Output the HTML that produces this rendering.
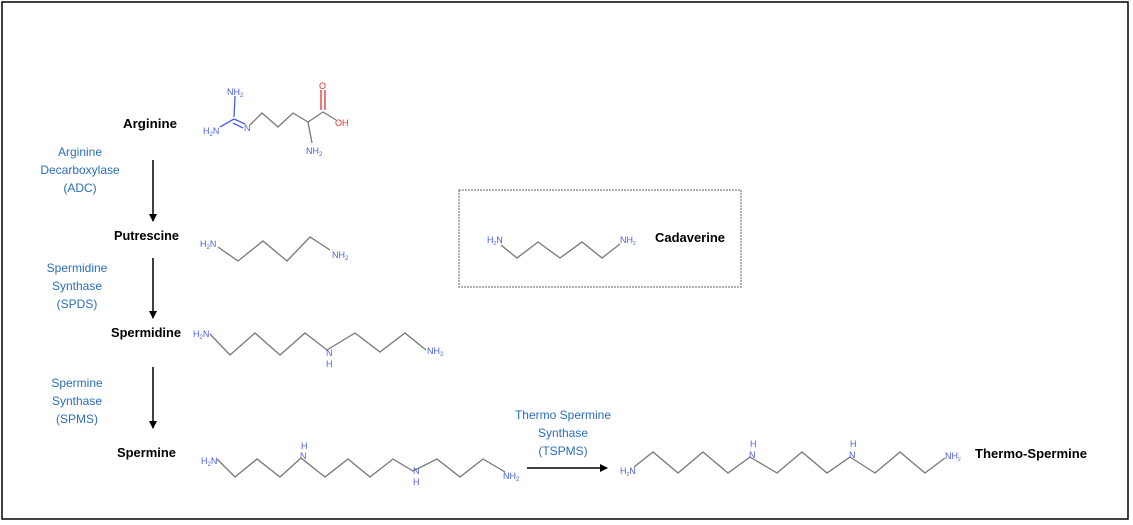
<!DOCTYPE html>
<html><head><style>
body{margin:0;width:1133px;height:525px;background:#fff;overflow:hidden}
svg{display:block}
.b{font-family:"Liberation Sans",sans-serif;font-weight:bold;font-size:13px;fill:#000}
.e{font-family:"Liberation Sans",sans-serif;font-size:12px;fill:#2a6ebb;text-anchor:middle}
.c{fill:none;stroke:#777;stroke-width:1.3}
.a{font-family:"Liberation Sans",sans-serif;font-size:9px;fill:#4a5ee8}
.r{font-family:"Liberation Sans",sans-serif;font-size:9px;fill:#e83030}
</style></head><body>
<svg width="1133" height="525" viewBox="0 0 1133 525">
<defs><marker id="m" markerWidth="8" markerHeight="8" refX="7" refY="4" orient="auto" markerUnits="userSpaceOnUse"><path d="M0,0 L8,4 L0,8z" fill="#000"/></marker></defs>
<rect x="2" y="2" width="1126" height="517" fill="none" stroke="#000" stroke-width="1.5"/>
<rect x="459" y="190" width="282" height="97" fill="none" stroke="#666" stroke-width="1" stroke-dasharray="2,1"/>

<text class="b" x="123" y="128" textLength="54" lengthAdjust="spacingAndGlyphs">Arginine</text>
<text class="b" x="114" y="240" textLength="65" lengthAdjust="spacingAndGlyphs">Putrescine</text>
<text class="b" x="111" y="337" textLength="70" lengthAdjust="spacingAndGlyphs">Spermidine</text>
<text class="b" x="117" y="457" textLength="59" lengthAdjust="spacingAndGlyphs">Spermine</text>
<text class="b" x="975" y="458" textLength="112" lengthAdjust="spacingAndGlyphs">Thermo-Spermine</text>
<text class="b" x="655" y="242" textLength="70" lengthAdjust="spacingAndGlyphs">Cadaverine</text>

<text class="e" x="80" y="156">Arginine</text><text class="e" x="80" y="174">Decarboxylase</text><text class="e" x="80" y="192">(ADC)</text>
<text class="e" x="77" y="272">Spermidine</text><text class="e" x="77" y="290">Synthase</text><text class="e" x="77" y="308">(SPDS)</text>
<text class="e" x="77" y="387">Spermine</text><text class="e" x="77" y="405">Synthase</text><text class="e" x="77" y="423">(SPMS)</text>
<text class="e" x="563" y="419">Thermo Spermine</text><text class="e" x="563" y="437">Synthase</text><text class="e" x="563" y="455">(TSPMS)</text>

<g stroke="#000" stroke-width="1.5" marker-end="url(#m)">
<line x1="153" y1="160" x2="153" y2="221"/>
<line x1="153" y1="258" x2="153" y2="318"/>
<line x1="153" y1="367" x2="153" y2="428"/>
<line x1="527" y1="468" x2="607" y2="468"/>
</g>

<!-- Arginine -->
<polyline class="c" points="250,125 262,113 278,127 293,113 308,122 323,112 336,120"/>
<line class="c" x1="308" y1="122" x2="312" y2="143"/>
<line class="c" x1="321" y1="110" x2="321" y2="90" style="stroke:#e83030"/><line class="c" x1="325" y1="110" x2="325" y2="90" style="stroke:#e83030"/>
<line class="c" x1="235" y1="96" x2="234" y2="117" style="stroke:#4a5ee8"/>
<line class="c" x1="220" y1="127" x2="234" y2="119" style="stroke:#4a5ee8"/>
<line class="c" x1="234" y1="119" x2="245" y2="124" style="stroke:#4a5ee8"/>
<line class="c" x1="233" y1="123" x2="243" y2="128" style="stroke:#4a5ee8"/>
<text class="a" x="227" y="95">NH<tspan font-size="6" dy="2">2</tspan></text>
<text class="a" x="203" y="134">H<tspan font-size="6" dy="2">2</tspan><tspan dy="-2">N</tspan></text>
<text class="a" x="244" y="131">N</text>
<text class="r" x="319" y="89">O</text>
<text class="r" x="335" y="126">OH</text>
<text class="a" x="306" y="154">NH<tspan font-size="6" dy="2">2</tspan></text>

<!-- Putrescine -->
<text class="a" x="200" y="247">H<tspan font-size="6" dy="2">2</tspan><tspan dy="-2">N</tspan></text>
<polyline class="c" points="218,247 238,261 263,241 287,261 310,237 330,250"/>
<text class="a" x="332" y="258">NH<tspan font-size="6" dy="2">2</tspan></text>

<!-- Spermidine -->
<text class="a" x="193" y="337">H<tspan font-size="6" dy="2">2</tspan><tspan dy="-2">N</tspan></text>
<polyline class="c" points="210,334 230,355 255,333 280,355 305,333 327,350 355,333 380,352 405,333 426,350"/>
<text class="a" x="326" y="356">N</text><text class="a" x="326" y="367">H</text>
<text class="a" x="427" y="354">NH<tspan font-size="6" dy="2">2</tspan></text>

<!-- Spermine -->
<text class="a" x="201" y="464">H<tspan font-size="6" dy="2">2</tspan><tspan dy="-2">N</tspan></text>
<polyline class="c" points="217,459 235,477 257,459 280,477 301,458 325,477 348,459 370,477 393,459 413,471 437,459 460,477 483,459 505,472"/>
<text class="a" x="301" y="449">H</text><text class="a" x="300" y="459">N</text>
<text class="a" x="413" y="474">N</text><text class="a" x="413" y="485">H</text>
<text class="a" x="503" y="479">NH<tspan font-size="6" dy="2">2</tspan></text>

<!-- Thermo-spermine -->
<text class="a" x="620" y="474" font-size="7">H<tspan font-size="5" dy="2">2</tspan><tspan dy="-2">N</tspan></text>
<polyline class="c" points="634,467 653,452 678,473 703,452 728,473 750,457 777,473 802,452 827,473 850,457 875,473 900,452 925,473 945,458"/>
<text class="a" x="749" y="458" font-size="7">N</text><text class="a" x="750" y="447" font-size="7">H</text>
<text class="a" x="849" y="458" font-size="7">N</text><text class="a" x="850" y="447" font-size="7">H</text>
<text class="a" x="945" y="459" font-size="7">NH<tspan font-size="5" dy="2">2</tspan></text>

<!-- Cadaverine -->
<text class="a" x="487" y="243" font-size="7">H<tspan font-size="5" dy="2">2</tspan><tspan dy="-2">N</tspan></text>
<polyline class="c" points="501,245 517,258 538,242 560,258 582,242 602,258 620,244"/>
<text class="a" x="620" y="243" font-size="7">NH<tspan font-size="5" dy="2">2</tspan></text>
</svg>
</body></html>
